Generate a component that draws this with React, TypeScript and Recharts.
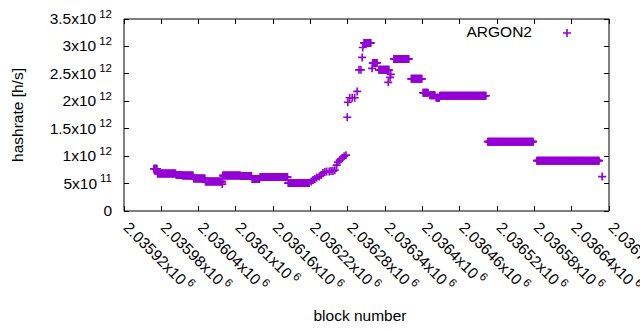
import { Label, Legend, ReferenceArea, Scatter, ScatterChart, XAxis, YAxis } from "recharts";

const FONT = '"Liberation Sans", Arial, sans-serif';
const FS = 15.5;
const PURPLE = "#9400d3";

// plot box edges (px), used for the mirrored ticks on top/right
const PLOT_TOP = 19;
const PLOT_RIGHT = 609;

// runs of blocks with the same hashrate (x10^12 h/s)
const runFirstBlock = [
  2035968, 2035974, 2036004, 2036014, 2036032, 2036051, 2036079, 2036108, 2036126, 2036139,
  2036184, 2036306, 2036320, 2036330, 2036354, 2036382, 2036401, 2036412, 2036422, 2036428,
  2036505, 2036584,
];
const runLastBlock = [
  2035973, 2036003, 2036013, 2036031, 2036050, 2036078, 2036107, 2036125, 2036138, 2036183,
  2036218, 2036317, 2036327, 2036346, 2036378, 2036399, 2036409, 2036420, 2036427, 2036502,
  2036578, 2036684,
];
const runHashrate = [
  0.77, 0.682, 0.655, 0.645, 0.591, 0.536, 0.645, 0.636, 0.582, 0.618,
  0.509, 3.064, 2.7, 2.573, 2.773, 2.409, 2.155, 2.109, 2.064, 2.1,
  1.264, 0.918,
];

// single blocks between the runs
const singleBlock = [
  2036078, 2036221, 2036224, 2036227, 2036230, 2036234, 2036237, 2036240, 2036243, 2036246,
  2036250, 2036253, 2036256, 2036259, 2036262, 2036264, 2036267, 2036271, 2036274, 2036277,
  2036279, 2036280, 2036283, 2036287, 2036291, 2036295, 2036298, 2036301, 2036303, 2036304,
  2036319, 2036345, 2036348, 2036349, 2036689,
];
const singleHashrate = [
  0.49, 0.536, 0.564, 0.582, 0.609, 0.627, 0.655, 0.691, 0.709, 0.718,
  0.718, 0.727, 0.727, 0.745, 0.836, 0.891, 0.927, 0.964, 1.0, 1.018,
  1.709, 1.982, 2.064, 2.064, 2.064, 2.18, 2.573, 2.573, 2.8, 2.98,
  2.6, 2.345, 2.436, 2.49, 0.627,
];

const xTicks = [
  2035920, 2035980, 2036040, 2036100, 2036160, 2036220, 2036280, 2036340, 2036400, 2036460,
  2036520, 2036580, 2036640, 2036700,
];
const xTickLabels = [
  "2.03592", "2.03598", "2.03604", "2.0361", "2.03616", "2.03622", "2.03628", "2.03634",
  "2.0364", "2.03646", "2.03652", "2.03658", "2.03664", "2.0367",
];
const yTicks = [0, 0.5, 1, 1.5, 2, 2.5, 3, 3.5];
const yTickLabels = ["0", "5", "1", "1.5", "2", "2.5", "3", "3.5"];
const yTickPowers = ["", "11", "12", "12", "12", "12", "12", "12"];

const points: { block: number; hashrate: number }[] = [];
runFirstBlock.forEach((first, i) => {
  for (let b = first; b <= runLastBlock[i]; b++) points.push({ block: b, hashrate: runHashrate[i] });
});
singleBlock.forEach((b, i) => points.push({ block: b, hashrate: singleHashrate[i] }));

function Plus(props: any) {
  const { cx, cy } = props;
  return <path d={`M${cx - 4},${cy}h8M${cx},${cy - 4}v8`} stroke={PURPLE} strokeWidth={1.6} fill="none" />;
}

function XTick(props: any) {
  const { x, y, payload } = props;
  const i = xTicks.indexOf(payload.value);
  return (
    <g>
      <line x1={x} x2={x} y1={y} y2={y - 5} stroke="#000" shapeRendering="crispEdges" />
      <line x1={x} x2={x} y1={PLOT_TOP} y2={PLOT_TOP + 5} stroke="#000" shapeRendering="crispEdges" />
      <g transform={`translate(${x + 2},${y + 14}) rotate(45)`}>
        <text x={0} y={5} fontSize={FS} fontFamily={FONT} fill="#000">
          {xTickLabels[i]}x10
          <tspan dx={3} dy={-6.5} fontSize={11.5}>
            6
          </tspan>
        </text>
      </g>
    </g>
  );
}

function YTick(props: any) {
  const { x, y, payload } = props;
  const i = yTicks.indexOf(payload.value);
  const pow = yTickPowers[i];
  return (
    <g>
      <line x1={x} x2={x + 5} y1={y} y2={y} stroke="#000" shapeRendering="crispEdges" />
      <line x1={PLOT_RIGHT} x2={PLOT_RIGHT - 5} y1={y} y2={y} stroke="#000" shapeRendering="crispEdges" />
      <text x={x - 12} y={y + 5} textAnchor="end" fontSize={FS} fontFamily={FONT} fill="#000">
        {yTickLabels[i]}
        {pow ? "x10" : ""}
        {pow ? (
          <tspan dx={3} dy={-6.5} fontSize={11.5}>
            {pow}
          </tspan>
        ) : null}
      </text>
    </g>
  );
}

function LegendBox() {
  return (
    <div style={{ position: "relative", height: 20, fontFamily: FONT, fontSize: FS, color: "#000" }}>
      <span style={{ position: "absolute", right: 58, top: 0, lineHeight: "20px" }}>ARGON2</span>
      <svg width={10} height={10} style={{ position: "absolute", left: 122, top: 6 }}>
        <path d="M1,5h8M5,1v8" stroke={PURPLE} strokeWidth={1.6} />
      </svg>
    </div>
  );
}

export default function App() {
  return (
    <div>
      <style>{"body{margin:0}"}</style>
      <ScatterChart width={640} height={330} margin={{ top: 19, right: 31, left: 0, bottom: 0 }}>
        <XAxis
          type="number"
          dataKey="block"
          domain={[2035920, 2036700]}
          ticks={xTicks}
          interval={0}
          height={119}
          axisLine={false}
          tickLine={false}
          tickSize={0}
          tickMargin={0}
          tick={<XTick />}
          allowDataOverflow
        >
          <Label
            content={() => (
              <text x={360} y={321} textAnchor="middle" fontSize={FS} fontFamily={FONT} fill="#000">
                block number
              </text>
            )}
          />
        </XAxis>
        <YAxis
          type="number"
          dataKey="hashrate"
          domain={[0, 3.5]}
          ticks={yTicks}
          interval={0}
          width={124}
          axisLine={false}
          tickLine={false}
          tickSize={0}
          tickMargin={0}
          tick={<YTick />}
          allowDataOverflow
        >
          <Label
            content={() => (
              <text
                x={17}
                y={115}
                transform="rotate(-90 17 115)"
                textAnchor="middle"
                dominantBaseline="central"
                fontSize={FS}
                fontFamily={FONT}
                fill="#000"
              >
                hashrate [h/s]
              </text>
            )}
          />
        </YAxis>
        <ReferenceArea x1={2035920} x2={2036700} y1={0} y2={3.5} fill="none" stroke="#000" strokeWidth={1} />
        <Legend
          layout="horizontal"
          verticalAlign="middle"
          align="center"
          wrapperStyle={{ top: 22, left: 440, width: 150 }}
          content={() => <LegendBox />}
        />
        <Scatter data={points} shape={<Plus />} fill={PURPLE} isAnimationActive={false} />
      </ScatterChart>
    </div>
  );
}
